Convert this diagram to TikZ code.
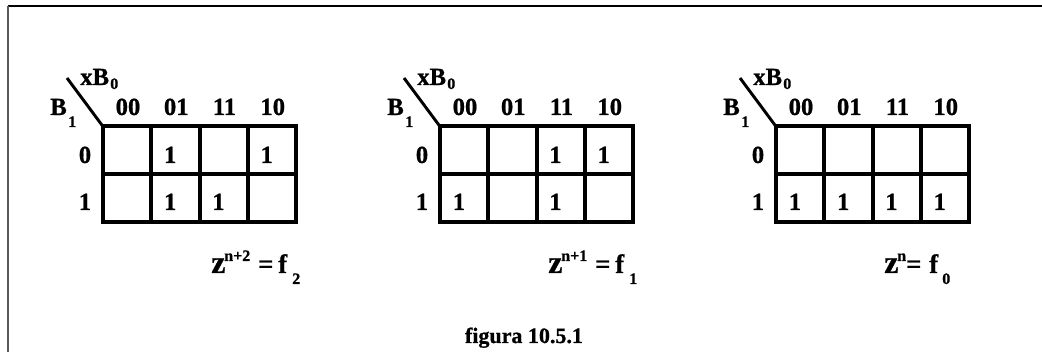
\documentclass[tikz,border=0pt]{standalone}
\usepackage{fontspec}
\setmainfont{Liberation Serif}[BoldFeatures={FakeBold=0.8}]
\begin{document}
\begin{tikzpicture}[x=0.75pt,y=-0.75pt,
  grid/.style={line width=3pt,line cap=rect},
  diag/.style={line width=2.2pt},
  frame/.style={line width=0.8pt},
  lbl/.style={anchor=base,inner sep=0pt,font=\fontsize{18.5pt}{18.5pt}\bfseries},
  lblw/.style={anchor=base west,inner sep=0pt,font=\fontsize{18.5pt}{18.5pt}\bfseries},
  subtxt/.style={anchor=base west,inner sep=0pt,font=\fontsize{12pt}{12pt}\bfseries},
  fz/.style={anchor=base west,inner sep=0pt,font=\fontsize{24pt}{24pt}\bfseries},
  fm/.style={anchor=base west,inner sep=0pt,font=\fontsize{20pt}{20pt}\bfseries},
  fs/.style={anchor=base west,inner sep=0pt,font=\fontsize{12pt}{12pt}\bfseries},
  captxt/.style={anchor=base,inner sep=0pt,font=\fontsize{16.5pt}{16.5pt}\bfseries}]
\useasboundingbox (0,0) rectangle (1042,352);
% frame
\coordinate (ftl) at (8,6);
\coordinate (ftr) at (1042,6);
\coordinate (fbl) at (8,352);
\draw[frame,black] (ftr) -- (ftl);
\draw[line width=1.3pt,black!65] (ftl) -- (fbl);
% K-maps
\foreach \g/\L/\ra/\rb in {
  a/103/{0,1,0,1}/{0,1,1,0},
  b/440/{0,0,1,1}/{1,0,1,0},
  c/776/{0,0,0,0}/{1,1,1,1}}{
  \coordinate (\g tl) at (\L,126.5);
  \coordinate (\g br) at (\L+193,222);
  \coordinate (\g d) at (\L-36,78);
  \draw[grid] (\g tl) rectangle (\g br);
  \draw[grid] (\L,174.5) coordinate (\g ml) -- (\L+193,174.5) coordinate (\g mr);
  \foreach \i in {1,2,3}{
    \draw[grid] (\L+48.25*\i,126.5) coordinate (\g v\i t) -- (\L+48.25*\i,222) coordinate (\g v\i b);
  }
  \draw[diag] (\g tl) -- (\g d);
  \node[lblw] (\g xb) at (\L-23,85) {xB};
  \node[subtxt] (\g xbs) at (\L+7,89) {0};
  \node[lblw] (\g b) at (\L-53,115) {B};
  \node[subtxt] (\g bs) at (\L-35,127) {1};
  \foreach \h [count=\i from 0] in {00,01,11,10}{
    \node[lbl] (\g h\i) at (\L+48.25*\i+25,115) {\h};
  }
  \node[lbl] (\g r0) at (\L-18,163) {0};
  \node[lbl] (\g r1) at (\L-18,210) {1};
  \foreach \v [count=\i from 0] in \ra {
    \ifnum\v=1 \node[lbl] (\g a\i) at (\L+48.25*\i+19,163) {1};\fi
  }
  \foreach \v [count=\i from 0] in \rb {
    \ifnum\v=1 \node[lbl] (\g b\i) at (\L+48.25*\i+19,210) {1};\fi
  }
}
% formulas
\node[fz] (z2) at (211,273) {z};
\node[fs] (z2s) at (224,261) {n+2};
\node[fm] (e2) at (258,273) {=};
\node[fm] (f2) at (278,273) {f};
\node[fs] (f2s) at (292,284) {2};

\node[fz] (z1) at (548,273) {z};
\node[fs] (z1s) at (561,261) {n+1};
\node[fm] (e1) at (595,273) {=};
\node[fm] (f1) at (615,273) {f};
\node[fs] (f1s) at (629,284) {1};

\node[fz] (z0) at (884,273) {z};
\node[fs] (z0s) at (897,261) {n};
\node[fm] (e0) at (906,273) {=};
\node[fm] (f0) at (929,273) {f};
\node[fs] (f0s) at (942,284) {0};

\node[captxt] (caption) at (524,343) {figura 10.5.1};
\end{tikzpicture}
\end{document}
